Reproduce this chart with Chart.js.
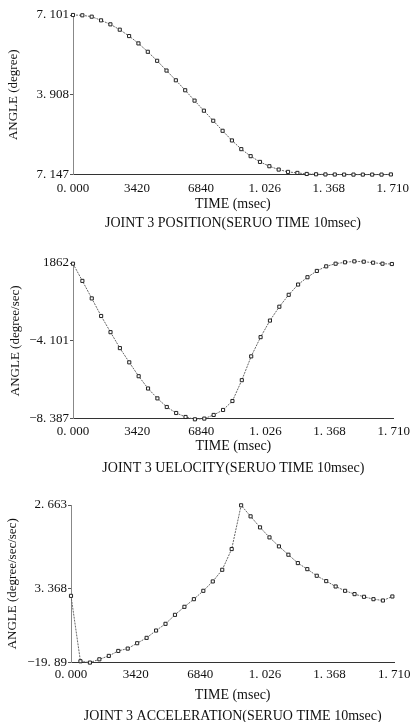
<!DOCTYPE html>
<html lang="en">
<head>
    <meta charset="UTF-8">
    <title>Joint 3</title>
    <style>
        body { margin: 0; background: #fff; width: 415px; height: 722px; overflow: hidden; position: relative; }
        canvas { position: absolute; left: 0; }
    </style>
</head>
<body>
    <canvas id="posChart" width="415" height="232" style="top:0px"></canvas>
    <canvas id="velChart" width="415" height="241" style="top:236px"></canvas>
    <canvas id="accChart" width="415" height="245" style="top:480px"></canvas>

    <script src="https://cdn.jsdelivr.net/npm/chart.js"></script>
    <script>
        // time of each sample (msec)
        const timesMs = [0, 50, 100, 150, 200, 250, 300, 350, 400, 450, 500, 550, 600, 650, 700, 750, 800, 850,
                         900, 950, 1000, 1050, 1100, 1150, 1200, 1250, 1300, 1350, 1400, 1450, 1500, 1550, 1600, 1650, 1700];

        // curves, in axis units (0 = bottom tick, 2 = top tick)
        const positionValues = [2.0, 1.996, 1.979, 1.933, 1.883, 1.816, 1.736, 1.644, 1.539, 1.426, 1.304, 1.182,
                                1.057, 0.927, 0.801, 0.675, 0.549, 0.428, 0.319, 0.231, 0.159, 0.105, 0.063, 0.034,
                                0.021, 0.008, 0.004, 0.002, 0.001, 0, 0, 0, 0, 0, 0.002];
        const velocityValues = [1.991, 1.770, 1.545, 1.319, 1.111, 0.906, 0.723, 0.545, 0.387, 0.260, 0.149, 0.072,
                                0.021, -0.009, 0.0, 0.047, 0.111, 0.226, 0.494, 0.800, 1.047, 1.260, 1.438, 1.591,
                                1.723, 1.817, 1.898, 1.957, 1.991, 2.009, 2.021, 2.017, 2.004, 1.991, 1.987];
        const accelerationValues = [0.847, 0.017, 0.0, 0.042, 0.085, 0.148, 0.178, 0.246, 0.314, 0.407, 0.492, 0.606,
                                    0.708, 0.805, 0.911, 1.030, 1.178, 1.441, 1.996, 1.856, 1.716, 1.589, 1.475, 1.369,
                                    1.263, 1.186, 1.102, 1.034, 0.966, 0.911, 0.869, 0.835, 0.805, 0.788, 0.839];

        // axis ticks and their printed labels
        const xTickValues = [0, 342, 684, 1026, 1368, 1710];
        const xTickLabels = ['0. 000', '3420', '6840', '1. 026', '1. 368', '1. 710'];
        const posTickValues = [0, 1, 2];
        const posTickLabels = ['7. 147', '3. 908', '7. 101'];
        const velTickValues = [0, 1, 2];
        const velTickLabels = ['\u22128. 387', '\u22124. 101', '1862'];
        const accTickValues = [0, 0.945, 2];
        const accTickLabels = ['\u221219. 89', '3. 368', '2. 663'];

        const serif = "'Liberation Serif', 'DejaVu Serif', serif";

        function makeChart(id, values, yTickValues, yTickLabels, yTitle, title, lay) {
            const ctx = document.getElementById(id).getContext('2d');
            return new Chart(ctx, {
                type: 'line',
                data: {
                    datasets: [{
                        data: timesMs.map((t, i) => ({ x: t, y: values[i] })),
                        borderColor: '#666',
                        borderWidth: 1,
                        borderDash: [2, 1],
                        pointStyle: 'rect',
                        pointRadius: 2.2,
                        pointBorderWidth: 1,
                        pointBorderColor: '#222',
                        pointBackgroundColor: '#fff',
                        tension: 0,
                        clip: false
                    }]
                },
                options: {
                    responsive: false,
                    animation: false,
                    devicePixelRatio: 1,
                    layout: { padding: { top: lay.padTop, right: lay.padRight, left: 0, bottom: 0 } },
                    plugins: {
                        legend: { display: false },
                        tooltip: { enabled: false },
                        title: {
                            display: true,
                            position: 'bottom',
                            fullSize: false,
                            text: title,
                            color: '#111',
                            font: { family: serif, size: 14, weight: 'normal' },
                            padding: { top: lay.titlePad, bottom: 0 }
                        }
                    },
                    scales: {
                        x: {
                            type: 'linear',
                            min: 0,
                            max: 1710,
                            afterBuildTicks: s => { s.ticks = xTickValues.map(v => ({ value: v })); },
                            afterFit: s => { s.height = lay.xHeight; },
                            ticks: {
                                callback: (v, i) => xTickLabels[i],
                                color: '#111',
                                padding: lay.xTickPad,
                                maxRotation: 0,
                                autoSkip: false,
                                font: { family: serif, size: 13 }
                            },
                            grid: { display: false, drawTicks: false },
                            border: { display: true, color: '#333', width: 1 },
                            title: {
                                display: true,
                                text: 'TIME (msec)',
                                color: '#111',
                                font: { family: serif, size: 14 },
                                padding: { top: 0, bottom: 0 }
                            }
                        },
                        y: {
                            min: 0,
                            max: 2,
                            afterBuildTicks: s => { s.ticks = yTickValues.map(v => ({ value: v })); },
                            afterFit: s => { s.width = lay.yWidth; },
                            ticks: {
                                callback: (v, i) => yTickLabels[i],
                                color: '#111',
                                padding: 1,
                                font: { family: serif, size: 13 }
                            },
                            grid: { display: true, drawOnChartArea: false, tickLength: 3, color: '#555' },
                            border: { display: true, color: '#888', width: 1 },
                            title: {
                                display: true,
                                text: yTitle,
                                color: '#111',
                                font: { family: serif, size: 13 },
                                padding: { top: lay.yTitlePad, bottom: 0 }
                            }
                        }
                    }
                }
            });
        }

        makeChart('posChart', positionValues, posTickValues, posTickLabels, 'ANGLE (degree)',
            'JOINT 3 POSITION(SERUO TIME 10msec)',
            { padTop: 15, padRight: 15, xHeight: 38.4, xTickPad: 6, titlePad: 2.2, yWidth: 73, yTitlePad: 6 });
        makeChart('velChart', velocityValues, velTickValues, velTickLabels, 'ANGLE (degree/sec)',
            'JOINT 3 UELOCITY(SERUO TIME 10msec)',
            { padTop: 27, padRight: 15, xHeight: 36.4, xTickPad: 5, titlePad: 5.2, yWidth: 73, yTitlePad: 8 });
        makeChart('accChart', accelerationValues, accTickValues, accTickLabels, 'ANGLE (degree/sec/sec)',
            'JOINT 3 ACCELERATION(SERUO TIME 10msec)',
            { padTop: 25, padRight: 20, xHeight: 41.4, xTickPad: 4.5, titlePad: 4.2, yWidth: 71, yTitlePad: 5 });
    </script>
</body>
</html>
